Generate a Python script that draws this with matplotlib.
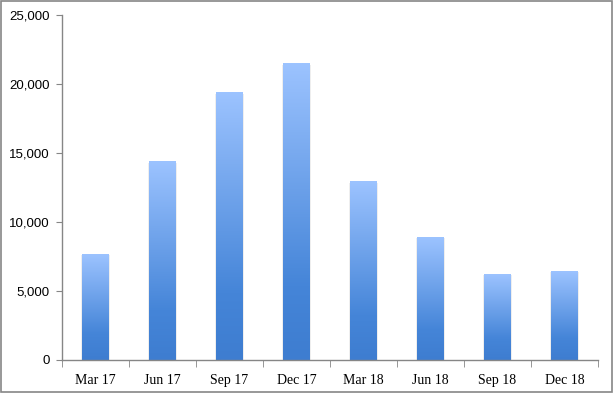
import matplotlib
matplotlib.use("Agg")
import matplotlib.pyplot as plt
import numpy as np
from matplotlib.patches import Rectangle
from matplotlib.colors import LinearSegmentedColormap
from matplotlib.ticker import FuncFormatter, FixedLocator

categories = ["Mar 17", "Jun 17", "Sep 17", "Dec 17", "Mar 18", "Jun 18", "Sep 18", "Dec 18"]
values = [7650, 14350, 19350, 21500, 12900, 8850, 6180, 6400]
y_ticks = [0, 5000, 10000, 15000, 20000, 25000]

fig = plt.figure(figsize=(6.13, 3.93), dpi=100)
ax = fig.add_axes([62/613, 33/393, 536/613, 345/393])

cmap = LinearSegmentedColormap.from_list("g", [(0, "#3e7dd0"), (0.25, "#4585d8"), (1, "#9cc3ff")])
grad = np.linspace(0, 1, 256).reshape(-1, 1)
width = 0.4
x = np.arange(len(categories))
for xi, v in zip(x, values):
    # soft shadow
    ax.add_patch(Rectangle((xi - width/2 - 0.02, 0), width + 0.04, v * 0.995, facecolor="#eeeeee",
                           edgecolor="none", zorder=1))
    ax.imshow(grad, cmap=cmap, origin="lower", aspect="auto",
              extent=(xi - width/2, xi + width/2, 0, v), zorder=2, interpolation="bilinear")

ax.set_xlim(-0.5, len(categories) - 0.5)
ax.set_ylim(0, 25000)
ax.set_yticks(y_ticks)
ax.yaxis.set_major_formatter(FuncFormatter(lambda v, p: f"{int(v):,}"))
ax.set_xticks(x)
ax.set_xticklabels(categories, family="Liberation Serif", fontsize=10)
ax.xaxis.set_minor_locator(FixedLocator(np.arange(-0.5, len(categories), 1.0)))
ax.tick_params(axis="x", which="major", length=0, pad=10)
ax.tick_params(axis="x", which="minor", length=5, color="#868686", direction="out")
ax.tick_params(axis="y", length=4, color="#868686", direction="out", pad=5)
for lab in ax.get_yticklabels():
    lab.set_family("Liberation Sans")
    lab.set_fontsize(9.5)
for s in ["top", "right"]:
    ax.spines[s].set_visible(False)
for s in ["left", "bottom"]:
    ax.spines[s].set_color("#868686")
    ax.spines[s].set_linewidth(1)

fig.patches.append(Rectangle((0.001, 0.003), 0.997, 0.994, transform=fig.transFigure,
                             fill=False, edgecolor="#868686", linewidth=1.2))
fig.savefig("out.png", dpi=100)
